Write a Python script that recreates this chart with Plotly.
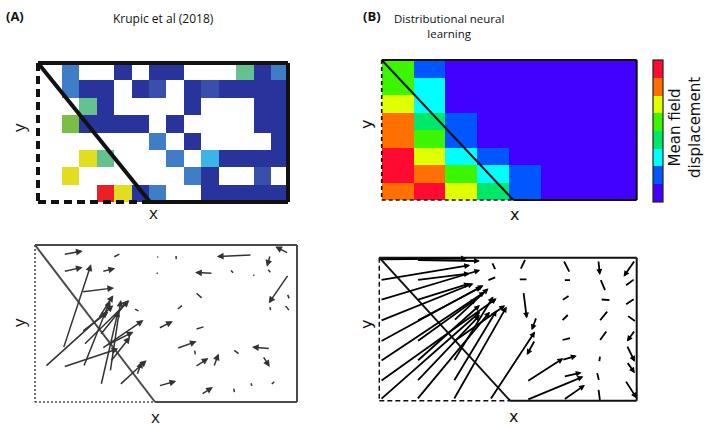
import math
import plotly.graph_objects as go

W, H = 705, 429

# ---------------------------------------------------------------------------
# Data
# ---------------------------------------------------------------------------
# (A) top: binned field displacement (8 rows x 14 columns, top row first)
# codes: 0 none, 1 navy, 2 slate, 3 mid blue, 4 sky, 5 teal, 6 green, 7 yellow, 8 red
krupic_bins = [
    [0, 3, 0, 0, 1, 0, 1, 1, 0, 0, 0, 5, 1, 3],
    [0, 3, 1, 1, 0, 1, 2, 0, 1, 2, 1, 1, 1, 1],
    [0, 0, 5, 1, 0, 0, 0, 0, 1, 0, 0, 0, 1, 1],
    [0, 6, 1, 1, 1, 1, 0, 1, 0, 0, 0, 0, 1, 1],
    [0, 0, 0, 0, 0, 0, 3, 0, 1, 0, 0, 0, 0, 1],
    [0, 0, 7, 5, 0, 0, 0, 3, 0, 4, 1, 1, 1, 1],
    [0, 7, 0, 0, 0, 0, 0, 0, 3, 1, 0, 0, 2, 0],
    [0, 0, 0, 8, 7, 1, 3, 0, 0, 1, 1, 1, 1, 1],
]
krupic_colors = ["#ffffff", "#28349b", "#3a4fab", "#3f7ec6", "#3bb5e6",
                 "#64c290", "#79bf45", "#e3dd22", "#ec1e26"]

# (B) top: model mean field displacement, 8 levels (top row first)
model_bins = [
    [4, 1, 0, 0, 0, 0, 0, 0],
    [4, 2, 0, 0, 0, 0, 0, 0],
    [5, 2, 0, 0, 0, 0, 0, 0],
    [6, 3, 1, 0, 0, 0, 0, 0],
    [6, 4, 1, 0, 0, 0, 0, 0],
    [7, 5, 2, 1, 0, 0, 0, 0],
    [7, 6, 4, 2, 1, 0, 0, 0],
    [6, 7, 5, 3, 1, 0, 0, 0],
]
model_colors = ["#4200ff", "#0057ff", "#00ffff", "#00e86c",
                "#3cf500", "#e0ff00", "#ff7000", "#ff0a30"]

# (A) bottom: recorded displacement vectors, arena 100 x 60 (tail x, y; u, v)
krupic_x = [10.8, 29.7, 46.5, 53.8, 82.8, 96.8, 89.8, 10.8, 25.5, 39.1, 45.9, 67.9,
            74.3, 82.8, 88.5, 96.8, 96.2, 95.2, 89.6, 61.1, 53.9, 47.1, 61.1, 97.2,
            54.1, 60.8, 89.8, 97.2, 75.5, 61.1, 68.2, 86.9, 47.1, 63.4, 75.8, 82.2,
            89.8, 10.8, 17.8, 3.8, 10.8, 18.5, 18.5, 25.2, 25.5, 24.8, 28.7, 32.2,
            28.7, 24.2, 17.8, 38.9, 37.6, 27.4]
krupic_y = [56.4, 55.2, 56.2, 56.4, 56.2, 56.8, 56.2, 49.8, 49.8, 48.8, 48.5, 49.2,
            50.8, 49.2, 51.1, 48.8, 41.5, 37.3, 36.8, 42.1, 35.1, 28.1, 27.7, 27.2,
            20.4, 20.2, 20.4, 20.1, 20.2, 13.4, 13.4, 17.6, 6.1, 2.8, 5.7, 7.7,
            6.4, 20.4, 42.1, 13.4, 13.4, 13.4, 21.7, 6.4, 20.4, 25.5, 15.3, 6.4,
            11.5, 31.9, 26.8, 10.2, 35.8, 21.7]
krupic_u = [7.4, 2.5, 0.4, 0.1, -13.4, -5.1, -1.3, 7.4, 5.1, 0.3, 0.9, -6.8,
            1.3, 0.9, 1.3, -7.6, 0.8, 1.7, 0.3, 2.5, 2.2, 5.5, 3.2, 0.2,
            7.6, 0.4, -7.0, 0.2, 2.2, 5.1, 1.9, 2.7, 6.8, 4.5, 0.3, 0.6,
            1.5, 10.6, 12.4, 26.1, 21.0, 10.2, 17.5, 6.6, 15.9, 10.8, 7.6, 10.4,
            4.1, 5.7, 10.2, 1.9, 1.9, 10.2]
krupic_v = [1.3, 1.3, -1.0, -1.8, -0.6, 2.6, -4.5, 1.7, 1.3, -0.3, 0.9, 0.3,
            -1.4, -0.9, -1.5, -11.1, -1.9, -2.2, -1.7, -2.3, 1.7, 2.8, 1.0, 0.2,
            2.8, -2.0, 0.6, -0.2, -1.7, 3.4, 5.1, -4.2, 1.9, 2.9, -1.9, -1.5,
            1.3, 32.2, 1.5, 23.6, 7.0, 25.5, 17.2, 28.7, 10.9, 13.4, 9.6, 9.6,
            27.5, 8.9, 7.7, 5.4, -1.0, 5.1]

# (B) bottom: model displacement vectors, arena 100 x 55.6 (tail x, y; u, v)
model_x = [0.3, 14.5, 0.3, 14.5, 0.3, 14.5, 0.3, 14.5, 0.3, 14.5, 0.3, 14.5,
           0.3, 14.5, 0.3, 14.5, 28.8, 43.0, 28.8, 28.8, 28.8, 28.8,
           43.7, 45.6, 54.7, 54.0, 56.0, 61.1, 60.5, 71.5, 71.5, 74.1, 73.8, 74.7,
           70.9, 71.5, 57.3, 57.3, 71.5, 85.1, 85.8, 85.8, 89.0, 88.6, 85.8, 84.5,
           85.1, 99.4, 99.4, 99.4, 96.1, 99.4, 96.1, 96.1, 95.5]
model_y = [55.0, 54.7, 46.9, 46.9, 39.1, 39.1, 31.0, 31.0, 22.9, 22.9, 15.2, 15.2,
           7.4, 7.4, 0.3, 0.3, 0.3, 0.3, 7.4, 15.2, 22.9, 31.0,
           54.0, 48.2, 50.8, 47.2, 42.4, 32.6, 23.6, 54.7, 46.9, 41.1, 33.9, 24.5,
           15.8, 9.3, 7.4, 0.3, 0.3, 54.7, 47.5, 39.4, 35.2, 27.5, 17.7, 11.3,
           4.8, 54.7, 47.5, 39.8, 33.3, 27.5, 21.6, 15.2, 8.0]
model_u = [33.7, 24.6, 35.0, 20.7, 38.9, 20.7, 36.3, 25.3, 40.2, 23.3, 40.8, 24.6,
           45.3, 24.6, 38.9, 28.5, 20.7, 17.5, 16.8, 15.5, 20.1, 13.6,
           1.3, -3.2, 1.9, 3.2, 1.3, -1.9, -3.2, 2.3, 2.6, -2.8, -2.6, -3.5,
           5.8, 7.1, 14.2, 22.0, 8.4, 0.6, 1.9, 3.6, -3.2, -2.8, -0.3, 0.8,
           0.6, -4.5, -3.5, -3.5, 3.2, -3.2, 3.2, 3.2, 4.5]
model_v = [0.3, -0.4, 5.8, 2.6, 11.7, 6.5, 14.6, 13.3, 22.0, 16.8, 27.2, 22.0,
           32.4, 25.9, 34.3, 34.3, 36.3, 26.6, 27.8, 25.3, 14.2, 12.7,
           -2.8, -1.3, 3.9, 0.0, -10.4, -5.2, -5.8, -4.5, 0.0, -1.9, -2.6, -0.9,
           1.7, 1.7, 9.1, 9.1, 5.8, -5.8, -4.5, -0.3, -3.9, -3.9, -2.3, -3.2,
           -4.5, -6.5, -2.6, -2.3, -2.3, -4.5, -6.5, -4.5, -7.1]

# ---------------------------------------------------------------------------
# Layout geometry (pixel boxes: left, top, right, bottom)
# ---------------------------------------------------------------------------
BOX = {
    "hA": (38, 63, 288, 202),
    "hB": (381.7, 60, 636.7, 200),
    "qA": (35, 245, 297, 402),
    "qB": (379.3, 257.7, 636.7, 400.7),
}


def px(x):
    return x / W


def py(y):
    return 1 - y / H


def dom(key):
    l, t, r, b = BOX[key]
    return [px(l), px(r)], [py(b), py(t)]


def stepped(colors):
    n = len(colors)
    scale = []
    for i, c in enumerate(colors):
        scale.append([i / n, c])
        scale.append([(i + 1) / n, c])
    return scale


fig = go.Figure()

fig.add_trace(go.Heatmap(
    z=krupic_bins, x=list(range(len(krupic_bins[0]))), y=list(range(len(krupic_bins))),
    colorscale=stepped(krupic_colors), zmin=-0.5, zmax=len(krupic_colors) - 0.5,
    showscale=False, xaxis="x", yaxis="y", hoverinfo="skip",
))

fig.add_trace(go.Heatmap(
    z=model_bins, x=list(range(len(model_bins[0]))), y=list(range(len(model_bins))),
    colorscale=stepped(model_colors), zmin=-0.5, zmax=len(model_colors) - 0.5,
    xaxis="x2", yaxis="y2", hoverinfo="skip",
    colorbar=dict(
        x=px(652.7), xanchor="left", y=py(60), yanchor="top",
        len=141.5 / H, lenmode="fraction", thickness=10, thicknessmode="pixels",
        xpad=0, ypad=0, outlinewidth=1.2, outlinecolor="#222",
        showticklabels=False, ticks="",
    ),
))

hidden = dict(visible=False, showgrid=False, zeroline=False)
dx, dy = dom("hA")
fig.update_layout(xaxis=dict(domain=dx, range=[-0.87, 13.5], **hidden),
                  yaxis=dict(domain=dy, range=[7.5, -0.5], **hidden))
dx, dy = dom("hB")
fig.update_layout(xaxis2=dict(domain=dx, range=[-0.5, 7.5], anchor="y2", **hidden),
                  yaxis2=dict(domain=dy, range=[7.5, -0.5], anchor="x2", **hidden))
dx, dy = dom("qA")
fig.update_layout(xaxis3=dict(domain=dx, range=[0, 100], anchor="y3", **hidden),
                  yaxis3=dict(domain=dy, range=[0, 60], anchor="x3", **hidden))
dx, dy = dom("qB")
fig.update_layout(xaxis4=dict(domain=dx, range=[0, 100], anchor="y4", **hidden),
                  yaxis4=dict(domain=dy, range=[0, 55.6], anchor="x4", **hidden))

# ---------------------------------------------------------------------------
# Arena outlines: solid walls, dashed open side, diagonal boundary
# ---------------------------------------------------------------------------
shapes = []


def arena(key, diag, color, width, dash, dash_width):
    l, t, r, b = BOX[key]
    xd = l + diag * (r - l)
    solid = dict(type="line", xref="paper", yref="paper",
                 line=dict(color=color, width=width))
    broken = dict(type="line", xref="paper", yref="paper",
                  line=dict(color=color, width=dash_width, dash=dash))
    segs = [
        (solid, l, t, r, t), (solid, r, t, r, b), (solid, xd, b, r, b),
        (solid, l, t, xd, b),
        (broken, l, t, l, b), (broken, l, b, xd, b),
    ]
    for style, x0, y0, x1, y1 in segs:
        s = dict(style)
        s.update(x0=px(x0), y0=py(y0), x1=px(x1), y1=py(y1))
        shapes.append(s)


arena("hA", 0.448, "#111111", 4, "8px,5px", 4)
arena("hB", 0.516, "#111111", 2, "4px,3px", 1.6)
arena("qA", 0.458, "#4a4a4a", 2, "2px,2px", 1.6)
arena("qB", 0.508, "#111111", 2, "5px,3px", 1.5)

# ---------------------------------------------------------------------------
# Quiver arrows
# ---------------------------------------------------------------------------
annotations = []


def quiver(xs, ys, us, vs, xr, yr, key, xspan, color, width, head_size, min_len):
    l, t, r, b = BOX[key]
    scale = (r - l) / xspan
    for x, y, u, v in zip(xs, ys, us, vs):
        length = math.hypot(u, v) * scale
        annotations.append(dict(
            x=x + u, y=y + v, ax=x, ay=y, xref=xr, yref=yr, axref=xr, ayref=yr,
            text="", showarrow=True, arrowhead=2 if length > min_len else 0,
            arrowsize=head_size, arrowwidth=width, arrowcolor=color,
            standoff=0, startstandoff=0,
        ))


quiver(krupic_x, krupic_y, krupic_u, krupic_v, "x3", "y3", "qA", 100,
       "#333333", 1.5, 0.9, 11)
quiver(model_x, model_y, model_u, model_v, "x4", "y4", "qB", 100,
       "#000000", 1.8, 0.65, 14)

# ---------------------------------------------------------------------------
# Text
# ---------------------------------------------------------------------------
SANS = "Open Sans, sans-serif"
DEJAVU = "DejaVu Sans, sans-serif"


def label(text, x, y, size, family, angle=0, color="#111", xanchor="center"):
    annotations.append(dict(
        text=text, x=px(x), y=py(y), xref="paper", yref="paper",
        xanchor=xanchor, yanchor="middle", showarrow=False, textangle=angle,
        font=dict(size=size, family=family, color=color),
    ))


label("<b>(A)</b>", 4, 16, 13, SANS, xanchor="left")
label("Krupic et al (2018)", 163, 18, 12, SANS)
label("<b>(B)</b>", 361, 16, 13, SANS, xanchor="left")
label("Distributional neural<br>learning", 449, 26, 11.5, SANS)

label("y", 18, 128, 17, SANS, angle=-90)
label("x", 153, 213, 17, SANS)
label("y", 18, 323, 17, SANS, angle=-90)
label("x", 155, 416, 17, SANS)

label("y", 366, 125, 16, DEJAVU, angle=-90)
label("x", 514, 214, 16, DEJAVU)
label("y", 366, 325, 16, DEJAVU, angle=-90)
label("x", 513, 416, 16, DEJAVU)

label("Mean field<br>displacement", 685, 128, 15, DEJAVU, angle=-90)

fig.update_layout(
    width=W, height=H, margin=dict(l=0, r=0, t=0, b=0),
    paper_bgcolor="white", plot_bgcolor="white",
    shapes=shapes, annotations=annotations, showlegend=False,
)

fig.write_html("out.html")
